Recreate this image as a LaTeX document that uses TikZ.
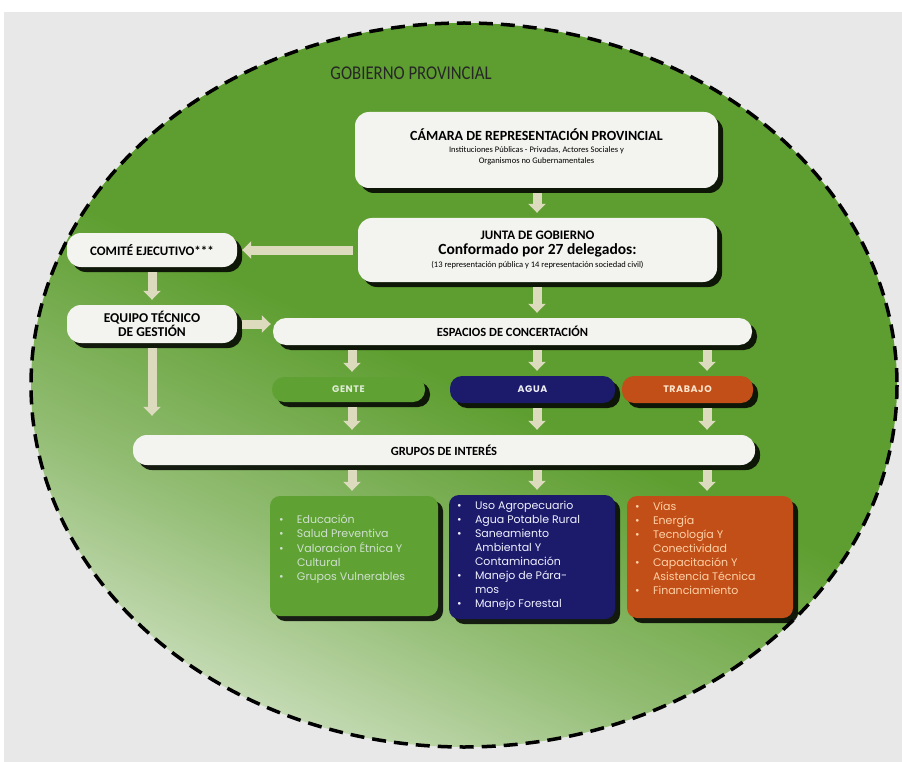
\documentclass[tikz,border=0pt]{standalone}
\usepackage{fontspec}
\setmainfont{Carlito}
\newfontfamily\gothfont{Poppins}
\newfontfamily\condfont[FakeStretch=0.86]{Carlito}
\usepackage{tikz}
\usetikzlibrary{positioning,shapes,shadows,arrows.meta,calc}

\definecolor{leaf}{HTML}{5E9E30}
\definecolor{paleleaf}{HTML}{DFEAD6}
\definecolor{backgray}{HTML}{E8E8E8}
\definecolor{boxwhite}{HTML}{F3F3EF}
\definecolor{arrowbeige}{HTML}{DDDBBE}
\definecolor{gentegreen}{HTML}{5FA233}
\definecolor{aguanavy}{HTML}{1B1A6B}
\definecolor{trabajoorange}{HTML}{C24E18}

\pgfdeclareverticalshading{gpfade}{100bp}{color(0bp)=(paleleaf); color(20bp)=(paleleaf); color(36bp)=(leaf!60!paleleaf); color(50bp)=(leaf); color(100bp)=(leaf)}

\tikzstyle{box}=[rectangle, rounded corners=14pt, fill=boxwhite, text=black, align=center, font=\bfseries,
  drop shadow={shadow xshift=5pt, shadow yshift=-5pt, opacity=0.85, fill=black}]
\tikzstyle{pill}=[box, rounded corners=12pt, font=\gothfont\bfseries\fontsize{9.5}{10}\selectfont\addfontfeatures{LetterSpace=6}]
\tikzstyle{listbox}=[rectangle, rounded corners=10pt, inner sep=0pt,
  drop shadow={shadow xshift=5pt, shadow yshift=-5pt, opacity=0.85, fill=black},
  font=\gothfont\fontsize{11}{14}\selectfont]
\tikzstyle{flow}=[draw=arrowbeige, line width=9pt, -{Triangle[width=17pt,length=9pt]},
  shorten <=5pt, shorten >=5pt]

\newcommand{\itemlist}[2]{\parbox[c][#1][t]{150pt}{\begin{tabular}{@{}p{18pt}@{}l@{}}#2\end{tabular}}}

\begin{document}
\begin{tikzpicture}[x=1pt,y=-1pt]
        \useasboundingbox (0,0) rectangle (902,762);
        \fill[white] (0,0) rectangle (902,762);
        \fill[backgray] (4,12) rectangle (902,762);

        % gobierno provincial
        \shade[shading=gpfade, shading angle=-25] (464,385) ellipse [x radius=433, y radius=362];
        \draw[black, line width=3.5pt, dash pattern=on 14pt off 8pt] (464,385) ellipse [x radius=433, y radius=362];
        \node (gobierno) at (411,73) {\condfont\fontsize{19.5}{20}\selectfont\color{black!85}GOBIERNO PROVINCIAL};

        \node (camara) [box, minimum width=363pt, minimum height=76pt] at (536.5,150)
          {\fontsize{14}{16}\selectfont CÁMARA DE REPRESENTACIÓN PROVINCIAL\\[0pt]
           \mdseries\fontsize{8.5}{10}\selectfont Instituciones Públicas - Privadas, Actores Sociales y\\[-1pt]
           \mdseries\fontsize{8.5}{10}\selectfont Organismos no Gubernamentales\\[-4pt]~};
        \node (junta) [box, minimum width=359pt, minimum height=64pt] at (537.5,250)
          {\fontsize{13}{15}\selectfont JUNTA DE GOBIERNO\\[3pt]
           \fontsize{15.5}{17}\selectfont Conformado por 27 delegados:\\[1pt]
           \mdseries\fontsize{8.5}{11}\selectfont (13 representación pública y 14 representación sociedad civil)};
        \node (comite) [box, minimum width=170pt, minimum height=34pt] at (152,250)
          {\fontsize{13}{15}\selectfont COMITÉ EJECUTIVO***};
        \node (equipo) [box, minimum width=170pt, minimum height=38pt] at (152,324)
          {\fontsize{13.5}{14}\selectfont EQUIPO TÉCNICO\\
           \fontsize{13.5}{14}\selectfont DE GESTIÓN};
        \node (espacios) [box, rounded corners=13pt, minimum width=479pt, minimum height=27pt] at (512.5,331.5)
          {\fontsize{12.5}{14}\selectfont ESPACIOS DE CONCERTACIÓN};

        \node (gente) [pill, fill=gentegreen, text=gentegreen!20!white, minimum width=153pt, minimum height=25pt] at (348.5,389.5) {GENTE};
        \node (agua) [pill, fill=aguanavy, text=white!92!aguanavy, minimum width=165pt, minimum height=27pt] at (532.5,389.5) {AGUA};
        \node (trabajo) [pill, fill=trabajoorange, text=orange!20!white, minimum width=131pt, minimum height=27pt] at (687.5,389.5) {TRABAJO};

        \node (grupos) [box, rounded corners=14pt, minimum width=622pt, minimum height=30pt] at (444,450)
          {\fontsize{12.5}{14}\selectfont GRUPOS DE INTERÉS};

        \node (glist) [listbox, fill=gentegreen, text=green!8!white!88!black, minimum width=168pt, minimum height=120pt] at (354,556)
          {\itemlist{104pt}{~\\[-4pt]
             \textbullet & Educación\\
             \textbullet & Salud Preventiva\\
             \textbullet & Valoracion Étnica Y\\
                         & Cultural\\
             \textbullet & Grupos Vulnerables}};
        \node (alist) [listbox, fill=aguanavy, text=blue!6!white, minimum width=166pt, minimum height=124pt] at (532,557)
          {\itemlist{114pt}{%
             \textbullet & Uso Agropecuario\\
             \textbullet & Agua Potable Rural\\
             \textbullet & Saneamiento\\
                         & Ambiental Y\\
                         & Contaminación\\
             \textbullet & Manejo de Pára-\\
                         & mos\\
             \textbullet & Manejo Forestal}};
        \node (tlist) [listbox, fill=trabajoorange, text=orange!35!white, minimum width=166pt, minimum height=122pt] at (710,557)
          {\itemlist{112pt}{%
             \textbullet & Vías\\
             \textbullet & Energía\\
             \textbullet & Tecnología Y\\
                         & Conectividad\\
             \textbullet & Capacitación Y\\
                         & Asistencia Técnica\\
             \textbullet & Financiamiento}};

        \coordinate (colG) at (352,0);
        \coordinate (colA) at (537,0);
        \coordinate (colT) at (707,0);

        \draw[flow] (camara.south -| colA) -- (junta.north -| colA);
        \draw[flow] (junta.west) -- (comite.east);
        \draw[flow] (comite) -- (equipo);
        \draw[flow, shorten >=2pt] (equipo.east) -- (equipo.east -| espacios.west);
        \draw[flow] (junta.south -| colA) -- (espacios.north -| colA);
        \draw[flow, shorten >=19pt] (equipo) -- (equipo |- grupos.north);
        \foreach \c/\p/\l in {colG/gente/glist, colA/agua/alist, colT/trabajo/tlist}{
            \draw[flow] (espacios.south -| \c) -- (\p.north -| \c);
            \draw[flow] (\p.south -| \c) -- (grupos.north -| \c);
            \draw[flow] (grupos.south -| \c) -- (\l.north -| \c);
        };
\end{tikzpicture}
\end{document}
